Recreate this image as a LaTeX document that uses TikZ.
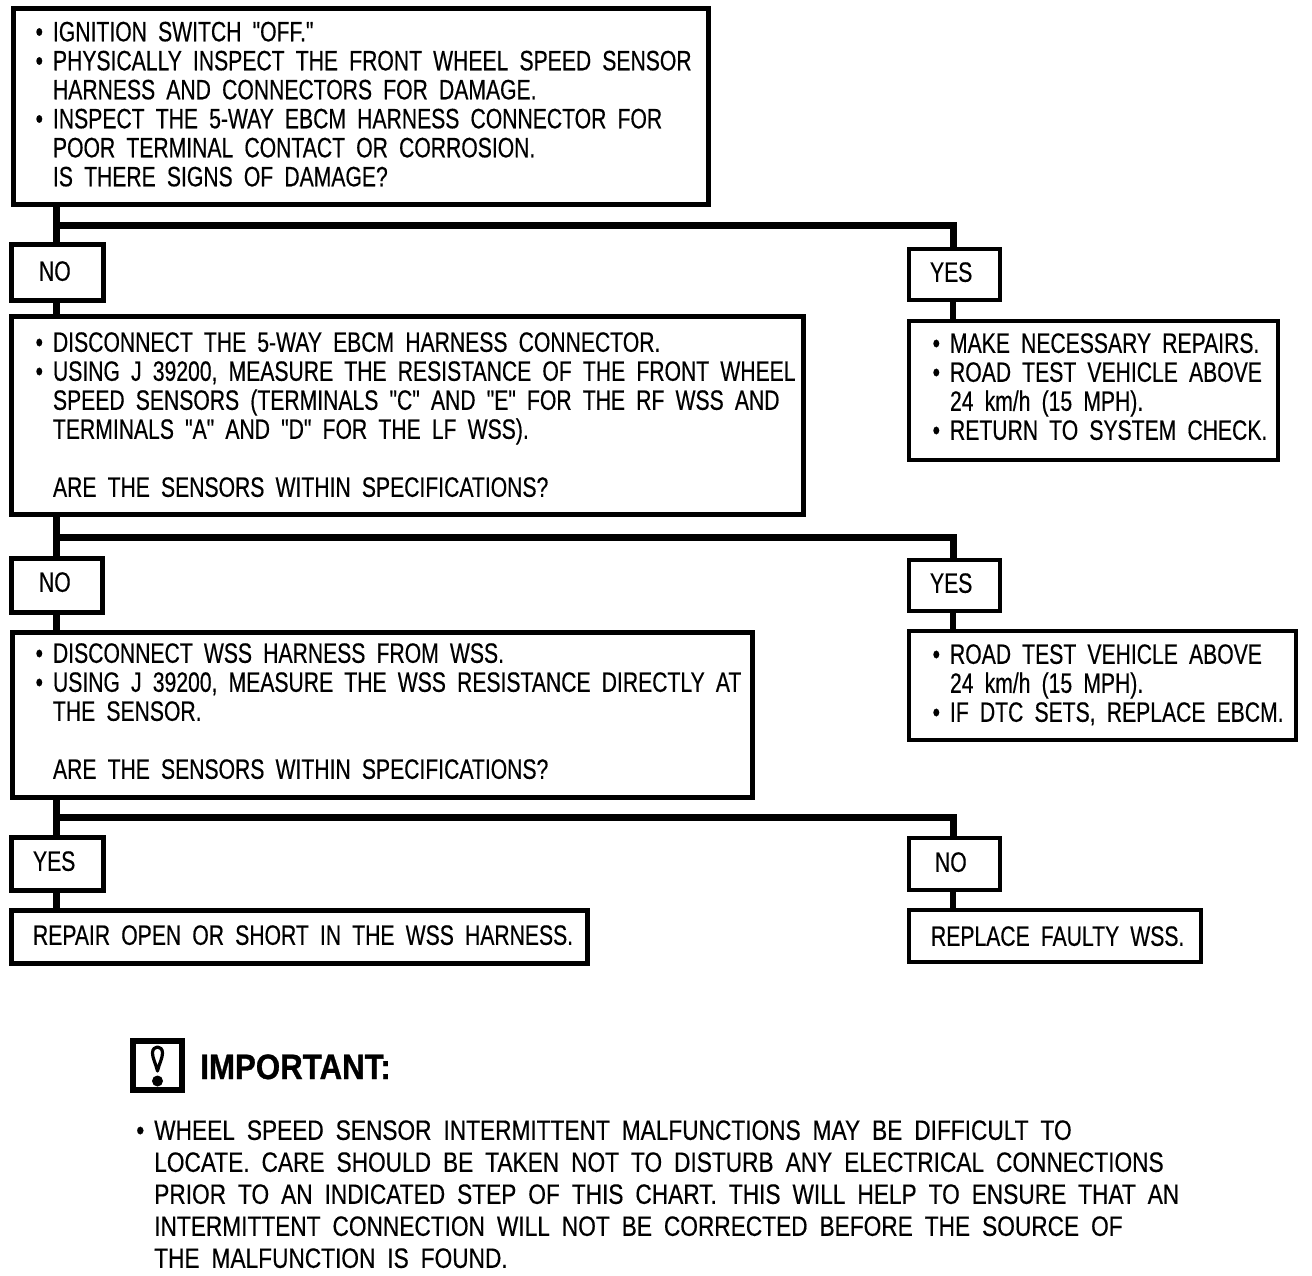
\documentclass[tikz,border=0pt]{standalone}
\usepackage{fontspec}
\newfontfamily\bodyfont{Liberation Sans}[FakeStretch=0.755,WordSpace=1.9,FakeBold=0.4]
\newfontfamily\notefont{Liberation Sans}[FakeStretch=0.81,WordSpace=1.9,FakeBold=0.4]
\newfontfamily\headfont{Liberation Sans Bold}[FakeStretch=0.885,FakeBold=0.8]
\newcommand\bl{\llap{\textbullet\hspace{7.5pt}}}
\newcommand\boxn[9][]{%
  \pgfmathsetlengthmacro\bw{(#4-#2)*0.75pt}%
  \pgfmathsetlengthmacro\bh{(#5-#3)*0.75pt}%
  \pgfmathsetlengthmacro\bi{(#6-#2)*0.75pt}%
  \pgfmathsetlengthmacro\bd{(#7)*0.75pt}%
  \node[flowbox,#1,minimum width=\bw,minimum height=\bh] (#9) at (#2,#3)
    {\hbox to \bw{\hskip\bi\raisebox{\bd}[0pt][0pt]{\begin{tabular}{@{}l@{}}#8\end{tabular}}\hss}};%
}
\tikzset{
  flowbox/.style={draw=black,line width=3.75pt,anchor=north west,inner sep=0pt,outer sep=0pt,
    font=\bodyfont\fontsize{21}{21.75}\selectfont,text=black,fill=white},
  thinbox/.style={line width=3pt},
  conn/.style={draw=black,line width=5pt},
  branch/.style={draw=black,line width=5.25pt,line join=miter}
}
\begin{document}
\begin{tikzpicture}[x=0.75pt,y=-0.75pt]
\useasboundingbox[fill=white] (0,0) rectangle (1312,1276);
% branch points
\coordinate (j1) at (56.5,226);
\coordinate (j2) at (56.5,537);
\coordinate (j3) at (56.5,817);
\coordinate (k1) at (953,226);
\coordinate (k2) at (953,537);
\coordinate (k3) at (953,817);
\boxn{13.5}{8.5}{708.5}{204.5}{53}{-8.4}{
\bl IGNITION SWITCH "OFF."\\
\bl PHYSICALLY INSPECT THE FRONT WHEEL SPEED SENSOR\\
HARNESS AND CONNECTORS FOR DAMAGE.\\
\bl INSPECT THE 5-WAY EBCM HARNESS CONNECTOR FOR\\
POOR TERMINAL CONTACT OR CORROSION.\\
IS THERE SIGNS OF DAMAGE?}{b1}
\boxn{11.5}{244.5}{103.5}{300.5}{39}{-9.4}{NO}{no1}
\boxn[thinbox]{909}{249}{1000}{300}{930}{-8.4}{YES}{yes1}
\boxn{11.5}{316.5}{803.5}{514.5}{53}{-9.9}{
\bl DISCONNECT THE 5-WAY EBCM HARNESS CONNECTOR.\\
\bl USING J 39200, MEASURE THE RESISTANCE OF THE FRONT WHEEL\\
SPEED SENSORS (TERMINALS "C" AND "E" FOR THE RF WSS AND\\
TERMINALS "A" AND "D" FOR THE LF WSS).\\
\\
ARE THE SENSORS WITHIN SPECIFICATIONS?}{b2}
\boxn[thinbox]{909}{321}{1278}{460}{950}{-6.9}{
\bl MAKE NECESSARY REPAIRS.\\
\bl ROAD TEST VEHICLE ABOVE\\
24 km/h (15 MPH).\\
\bl RETURN TO SYSTEM CHECK.}{r1}
\boxn{11.5}{558.5}{102.5}{612.5}{39}{-7.4}{NO}{no2}
\boxn[thinbox]{909}{560}{1000}{611}{930}{-8.4}{YES}{yes2}
\boxn{12.5}{632.5}{752.5}{797.5}{53}{-6.9}{
\bl DISCONNECT WSS HARNESS FROM WSS.\\
\bl USING J 39200, MEASURE THE WSS RESISTANCE DIRECTLY AT\\
THE SENSOR.\\
\\
ARE THE SENSORS WITHIN SPECIFICATIONS?}{b3}
\boxn[thinbox]{909}{631}{1296}{740}{950}{-8.4}{
\bl ROAD TEST VEHICLE ABOVE\\
24 km/h (15 MPH).\\
\bl IF DTC SETS, REPLACE EBCM.}{r2}
\boxn{11.5}{837.5}{103.5}{890.5}{33}{-7.9}{YES}{yes3}
\boxn[thinbox]{909}{838}{1000}{890}{935}{-8.9}{NO}{no3}
\boxn{11.5}{910.5}{587.5}{963.5}{33}{-8.9}{REPAIR OPEN OR SHORT IN THE WSS HARNESS.}{b4}
\boxn[thinbox]{909}{910}{1201}{962}{931}{-10.9}{REPLACE FAULTY WSS.}{r3}
% connectors
\draw[conn] (b1.south -| j1) -- (no1.north -| j1);
\draw[branch] (j1) -- (k1) -- (yes1.north -| k1);
\draw[conn] (no1.south -| j1) -- (b2.north -| j1);
\draw[conn] (yes1.south -| k1) -- (r1.north -| k1);
\draw[conn] (b2.south -| j2) -- (no2.north -| j2);
\draw[branch] (j2) -- (k2) -- (yes2.north -| k2);
\draw[conn] (no2.south -| j2) -- (b3.north -| j2);
\draw[conn] (yes2.south -| k2) -- (r2.north -| k2);
\draw[conn] (b3.south -| j3) -- (yes3.north -| j3);
\draw[branch] (j3) -- (k3) -- (no3.north -| k3);
\draw[conn] (yes3.south -| j3) -- (b4.north -| j3);
\draw[conn] (no3.south -| k3) -- (r3.north -| k3);
% important
\node[draw=black,line width=4.5pt,minimum width=36.75pt,minimum height=36.75pt,anchor=north west,outer sep=0pt,inner sep=0pt] (icon) at (133,1041) {};
\fill[black] (157.5,1081) circle (5.5);
\draw[black,line width=2.4pt,line join=round] (157.5,1071) .. controls (155.5,1063) and (152.5,1058) .. (152.5,1053) .. controls (152.5,1045) and (162.5,1045) .. (162.5,1053) .. controls (162.5,1058) and (159.5,1063) .. (157.5,1071) -- cycle;
\node[anchor=base west,inner sep=0pt,font=\headfont\fontsize{26.5}{26.5}\selectfont] (imp) at (200,1079) {IMPORTANT:};
\node[anchor=north west,inner sep=0pt,align=left,font=\notefont\fontsize{21}{24}\selectfont] (note) at (154,1120) {%
\bl WHEEL SPEED SENSOR INTERMITTENT MALFUNCTIONS MAY BE DIFFICULT TO\\
LOCATE. CARE SHOULD BE TAKEN NOT TO DISTURB ANY ELECTRICAL CONNECTIONS\\
PRIOR TO AN INDICATED STEP OF THIS CHART. THIS WILL HELP TO ENSURE THAT AN\\
INTERMITTENT CONNECTION WILL NOT BE CORRECTED BEFORE THE SOURCE OF\\
THE MALFUNCTION IS FOUND.};
\end{tikzpicture}
\end{document}
